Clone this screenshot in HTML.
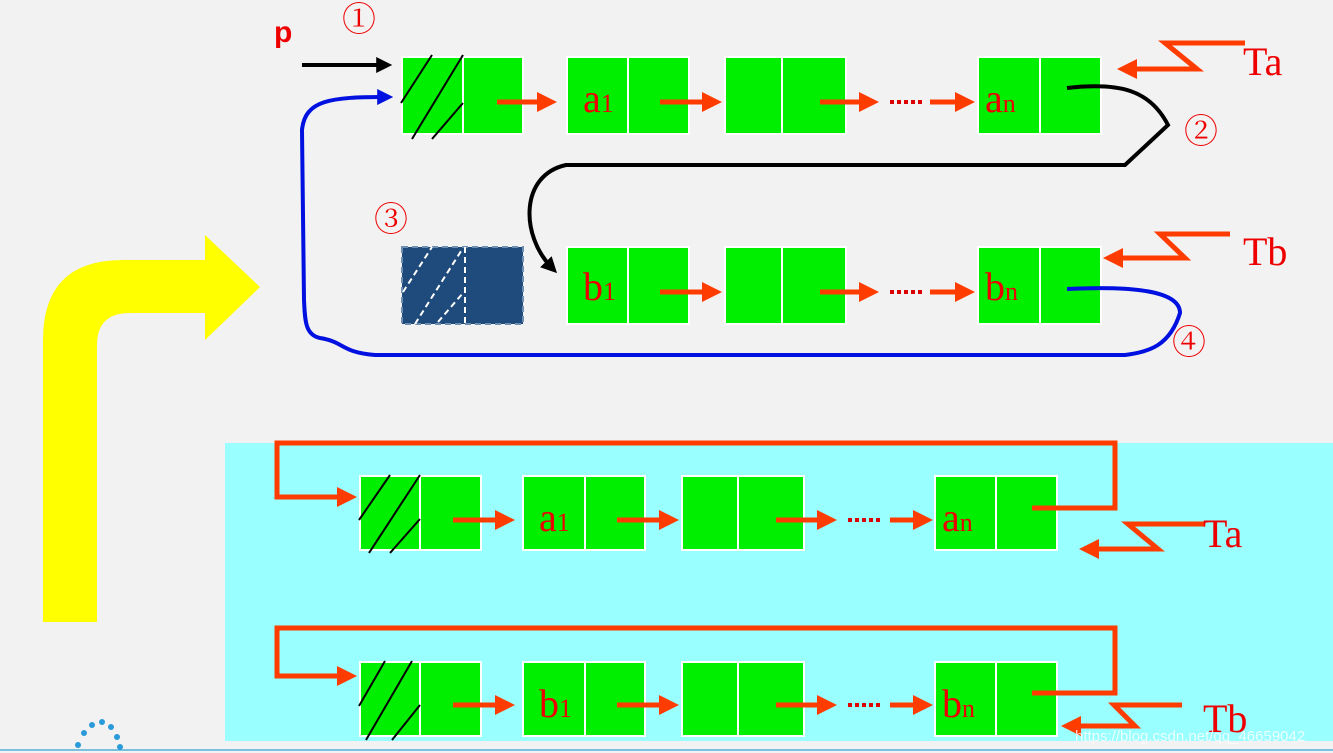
<!DOCTYPE html>
<html><head><meta charset="utf-8"><style>
html,body{margin:0;padding:0;background:#f2f2f2;}
svg{display:block}
.t{font-family:"Liberation Serif",serif;fill:#e00;}
.c{font-family:"Liberation Serif","Noto Serif CJK SC",serif;fill:#e00;}
</style></head><body>
<svg width="1333" height="753" viewBox="0 0 1333 753" xmlns="http://www.w3.org/2000/svg">
<defs>
<marker id="ra" markerWidth="4" markerHeight="4" refX="2.2" refY="2" orient="auto" markerUnits="strokeWidth"><path d="M0,0 L4,2 L0,4 z" fill="#ff3c00"/></marker>
<marker id="ka" markerWidth="4" markerHeight="4" refX="2.2" refY="2" orient="auto" markerUnits="strokeWidth"><path d="M0,0 L4,2 L0,4 z" fill="#000"/></marker>
<marker id="ba" markerWidth="4" markerHeight="4" refX="2.2" refY="2" orient="auto" markerUnits="strokeWidth"><path d="M0,0 L4,2 L0,4 z" fill="#0010e0"/></marker>
</defs>
<rect width="1333" height="753" fill="#f2f2f2"/>
<path d="M43,622 L43,340 Q43,260 123,260 L205,260 L205,235 L260,287 L205,340 L205,313 L130,313 Q97,313 97,345 L97,622 Z" fill="#ffff00"/>
<rect x="225" y="443" width="1108" height="298" fill="#99ffff"/>
<line x1="0" y1="750" x2="1333" y2="750" stroke="#7cc0e0" stroke-width="2"/>

<g stroke="#fff" stroke-width="2" fill="#00ee00">
<rect x="402" y="57" width="61" height="77"/><rect x="463" y="57" width="60" height="77"/>
<rect x="567" y="57" width="61" height="77"/><rect x="628" y="57" width="61" height="77"/>
<rect x="725" y="57" width="57" height="77"/><rect x="782" y="57" width="64" height="77"/>
<rect x="978" y="57" width="62" height="77"/><rect x="1040" y="57" width="61" height="77"/>
<rect x="567" y="247" width="61" height="77"/><rect x="628" y="247" width="61" height="77"/>
<rect x="725" y="247" width="57" height="77"/><rect x="782" y="247" width="64" height="77"/>
<rect x="978" y="247" width="62" height="77"/><rect x="1040" y="247" width="61" height="77"/>
<rect x="360" y="476" width="60" height="74"/><rect x="420" y="476" width="61" height="74"/>
<rect x="523" y="476" width="62" height="74"/><rect x="585" y="476" width="60" height="74"/>
<rect x="682" y="476" width="56" height="74"/><rect x="738" y="476" width="66" height="74"/>
<rect x="935" y="476" width="61" height="74"/><rect x="996" y="476" width="61" height="74"/>
<rect x="360" y="662" width="60" height="74"/><rect x="420" y="662" width="61" height="74"/>
<rect x="523" y="662" width="62" height="74"/><rect x="585" y="662" width="60" height="74"/>
<rect x="682" y="662" width="56" height="74"/><rect x="738" y="662" width="66" height="74"/>
<rect x="935" y="662" width="61" height="74"/><rect x="996" y="662" width="61" height="74"/>
</g>
<rect x="402" y="247" width="121" height="77" fill="#1f4a7c" stroke="#6f8fb0" stroke-width="2" stroke-dasharray="6,4"/>
<g stroke="#fff" stroke-width="2" stroke-dasharray="6,4">
<line x1="465" y1="247" x2="465" y2="324"/>
<line x1="403" y1="292" x2="432" y2="247"/><line x1="415" y1="324" x2="463" y2="248"/><line x1="438" y1="322" x2="463" y2="293"/>
</g>
<g stroke="#000" stroke-width="2">
<line x1="401" y1="103" x2="432" y2="55"/><line x1="412" y1="139" x2="463" y2="55"/><line x1="432" y1="139" x2="463" y2="103"/>
<line x1="359" y1="520" x2="390" y2="475"/><line x1="369" y1="553" x2="420" y2="475"/><line x1="390" y1="553" x2="420" y2="519"/>
<line x1="359" y1="706" x2="385" y2="661"/><line x1="366" y1="740" x2="412" y2="661"/><line x1="392" y1="740" x2="420" y2="705"/>
</g>
<g stroke="#ff3c00" stroke-width="5" fill="none" marker-end="url(#ra)">
<line x1="497" y1="102" x2="548" y2="102"/><line x1="660" y1="102" x2="713" y2="102"/><line x1="820" y1="102" x2="870" y2="102"/><line x1="930" y1="102" x2="966" y2="102"/>
<line x1="660" y1="292" x2="713" y2="292"/><line x1="820" y1="292" x2="870" y2="292"/><line x1="930" y1="292" x2="966" y2="292"/>
<line x1="453" y1="520" x2="506" y2="520"/><line x1="617" y1="520" x2="670" y2="520"/><line x1="776" y1="520" x2="828" y2="520"/><line x1="890" y1="520" x2="924" y2="520"/>
<line x1="453" y1="705" x2="506" y2="705"/><line x1="617" y1="705" x2="670" y2="705"/><line x1="776" y1="705" x2="828" y2="705"/><line x1="890" y1="705" x2="924" y2="705"/>
<polyline points="1245,43 1165,43 1197,69 1126,69"/>
<polyline points="1230,234 1160,234 1185,258 1112,258"/>
<polyline points="1205,524 1128,524 1158,549 1088,549"/>
<polyline points="1032,508 1115,508 1115,443 277,443 277,497 348,497"/>
<polyline points="1032,693 1115,693 1115,628 277,628 277,676 348,676"/>
<polyline points="1182,705 1114,705 1135,726 1070,726"/>
</g>
<g stroke="#dd0000" stroke-width="4" stroke-dasharray="4,3">
<line x1="890" y1="102" x2="925" y2="102"/><line x1="890" y1="292" x2="925" y2="292"/>
<line x1="848" y1="520" x2="882" y2="520"/><line x1="848" y1="705" x2="882" y2="705"/>
</g>
<line x1="302" y1="65" x2="385" y2="65" stroke="#000" stroke-width="4" marker-end="url(#ka)"/>
<path d="M1067,88 C1120,82 1150,90 1168,125 L1125,165 L566,165 C520,175 520,235 552,268" stroke="#000" stroke-width="4" fill="none" marker-end="url(#ka)"/>
<path d="M1067,289 C1130,286 1180,290 1180,313 C1170,345 1150,352 1125,355 L375,355 C340,352 345,342 320,338 C305,335 305,320 304,300 L302,130 C305,100 330,97 386,97" stroke="#0010e0" stroke-width="4" fill="none" marker-end="url(#ba)"/>
<text x="274" y="42" font-family="Liberation Sans,sans-serif" font-weight="bold" font-size="30" fill="#e00">p</text>
<text class="c" x="342" y="31" font-size="34">①</text>
<text class="c" x="1184" y="143" font-size="34">②</text>
<text class="c" x="374" y="231" font-size="34">③</text>
<text class="c" x="1172" y="354" font-size="34">④</text>
<text class="t" x="583" y="112" font-size="40">a<tspan font-size="26">1</tspan></text>
<text class="t" x="985" y="112" font-size="40">a<tspan font-size="26">n</tspan></text>
<text class="t" x="583" y="300" font-size="40">b<tspan font-size="26">1</tspan></text>
<text class="t" x="985" y="300" font-size="40">b<tspan font-size="26">n</tspan></text>
<text class="t" x="539" y="531" font-size="40">a<tspan font-size="26">1</tspan></text>
<text class="t" x="942" y="531" font-size="40">a<tspan font-size="26">n</tspan></text>
<text class="t" x="539" y="717" font-size="40">b<tspan font-size="26">1</tspan></text>
<text class="t" x="942" y="717" font-size="40">b<tspan font-size="26">n</tspan></text>
<text class="t" x="1243" y="75" font-size="40">Ta</text>
<text class="t" x="1243" y="265" font-size="40">Tb</text>
<text class="t" x="1203" y="547" font-size="40">Ta</text>
<text class="t" x="1203" y="732" font-size="40">Tb</text>
<text x="1075" y="741" font-family="Liberation Sans,sans-serif" font-size="15" fill="#fff" opacity="0.8">https://blog.csdn.net/qq_46659042</text>
<g fill="#2a9ad8"><circle cx="78" cy="745" r="3"/><circle cx="84" cy="733" r="3"/><circle cx="92" cy="725" r="3"/><circle cx="102" cy="722" r="3"/><circle cx="111" cy="727" r="3"/><circle cx="117" cy="737" r="3"/><circle cx="120" cy="747" r="3"/></g>
</svg>
</body></html>
